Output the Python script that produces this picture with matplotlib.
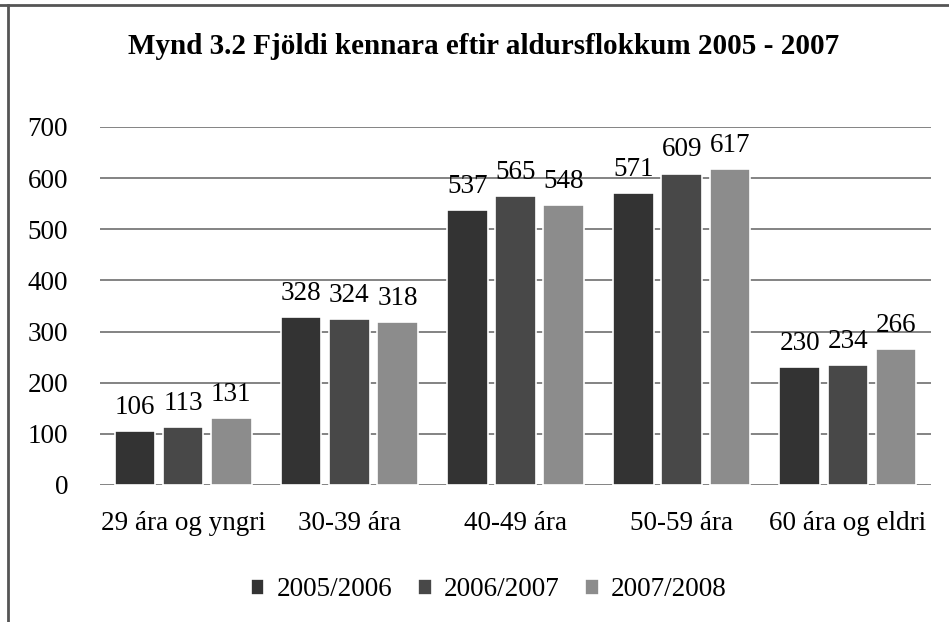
import matplotlib.pyplot as plt
from matplotlib.lines import Line2D
import numpy as np

categories = ["29 ára og yngri", "30-39 ára", "40-49 ára", "50-59 ára", "60 ára og eldri"]
series_names = ["2005/2006", "2006/2007", "2007/2008"]
v2005 = [106, 328, 537, 571, 230]
v2006 = [113, 324, 565, 609, 234]
v2007 = [131, 318, 548, 617, 266]
colors = ["#333333", "#484848", "#8c8c8c"]

plt.rcParams['font.family'] = ['Liberation Serif', 'DejaVu Serif']

fig = plt.figure(figsize=(9.49, 6.22), dpi=100)
ax = fig.add_axes([100 / 949, 1 - 485 / 622, 831 / 949, (485 - 127) / 622])

x = np.arange(len(categories))
w = 0.245
step = 0.29
for i, (vals, name, c) in enumerate(zip([v2005, v2006, v2007], series_names, colors)):
	pos = x + (i - 1) * step
	ax.bar(pos, vals, width=w, color=c, edgecolor="white", linewidth=1.2,
		   label=name, zorder=3)
	for p, v in zip(pos, vals):
		ax.annotate(str(v), (p, v), xytext=(0, 8), textcoords="offset points",
					ha="center", va="bottom", fontsize=19.5, zorder=4)

ax.set_xlim(-0.5, len(categories) - 0.5)
ax.set_ylim(0, 700)
ax.set_yticks(range(0, 701, 100))
ax.set_xticks(x)
ax.set_xticklabels(categories)
ax.yaxis.grid(True, color="#6e6e6e", linewidth=1.2, zorder=0)
ax.tick_params(axis="y", length=0, labelsize=19.5, pad=23)
ax.tick_params(axis="x", length=0, labelsize=19.5, pad=19)
for s in ax.spines.values():
	s.set_visible(False)

fig.text(0.51, 1 - 47 / 622, "Mynd 3.2 Fjöldi kennara eftir aldursflokkum 2005 - 2007",
		 ha="center", va="center", fontsize=21, fontweight="bold")

fig.legend(loc="center", bbox_to_anchor=(0.515, 1 - 590 / 622), ncol=3, frameon=False,
		   fontsize=19.5, handlelength=0.5, handleheight=0.5, handletextpad=0.45,
		   columnspacing=0.95)

fig.add_artist(Line2D([0, 1], [1 - 5 / 622, 1 - 5 / 622], color="#555555", linewidth=2))
fig.add_artist(Line2D([8 / 949, 8 / 949], [0, 1 - 5 / 622], color="#555555", linewidth=2))

fig.savefig("out.png", dpi=100)
